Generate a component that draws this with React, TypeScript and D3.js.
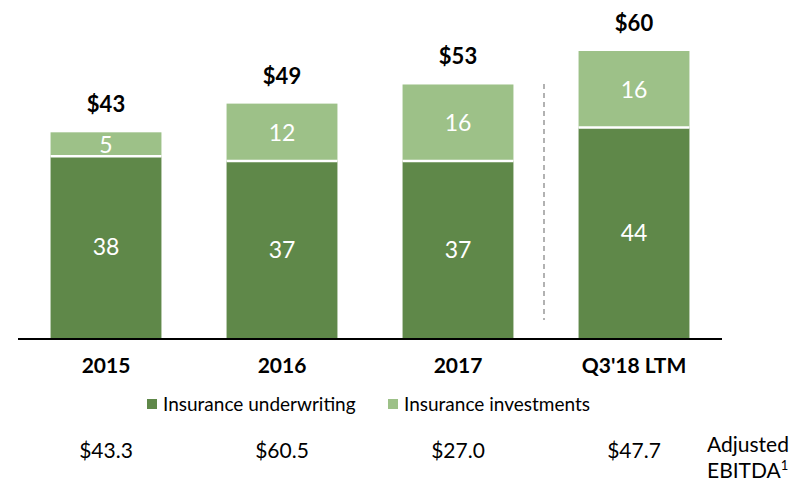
import React from 'react';
import * as d3 from 'd3';

const categories = ['2015', '2016', '2017', "Q3'18 LTM"];
const underwriting = [38, 37, 37, 44];
const investments = [5, 12, 16, 16];
const totals = ['$43', '$49', '$53', '$60'];
const ebitda = ['$43.3', '$60.5', '$27.0', '$47.7'];

const DARK = '#5f8849';
const LIGHT = '#9dc188';
const FONT = 'Lato, "Open Sans", sans-serif';

export default function App() {
  const width = 807;
  const height = 481;
  const baseY = 338;

  const x = d3.scaleBand<string>().domain(categories).range([18, 722]).paddingInner(0.37).paddingOuter(0.185);
  const y = d3.scaleLinear().domain([0, 60]).range([baseY, 51]);

  return (
    <svg width={width} height={height} style={{ position: 'absolute', left: 0, top: 0, fontFamily: FONT }}>
      {categories.map((c, i) => {
        const x0 = x(c) ?? 0;
        const bw = x.bandwidth();
        const cx = x0 + bw / 2;
        const u = underwriting[i];
        const v = investments[i];
        const yU = y(u);
        const yT = y(u + v);
        return (
          <g key={c}>
            <rect x={x0} y={yU} width={bw} height={baseY - yU} fill={DARK} />
            <rect x={x0} y={yT} width={bw} height={yU - yT} fill={LIGHT} />
            <line x1={x0} x2={x0 + bw} y1={yU} y2={yU} stroke="#fff" strokeWidth={2.5} />
            <text x={cx} y={(yU + baseY) / 2} dy="0.36em" textAnchor="middle" fill="#fff" fontSize={23}>{u}</text>
            <text x={cx} y={(yT + yU) / 2} dy="0.36em" textAnchor="middle" fill="#fff" fontSize={23}>{v}</text>
            <text x={cx} y={yT - 20} textAnchor="middle" fill="#000" fontSize={22} fontWeight="bold">{totals[i]}</text>
            <text x={cx} y={373} textAnchor="middle" fill="#000" fontSize={21} fontWeight="bold">{c}</text>
            <text x={cx} y={458} textAnchor="middle" fill="#000" fontSize={21}>{ebitda[i]}</text>
          </g>
        );
      })}
      <line x1={544} x2={544} y1={84} y2={320} stroke="#999" strokeWidth={1.5} strokeDasharray="5 4" />
      <line x1={18} x2={722} y1={baseY + 1} y2={baseY + 1} stroke="#000" strokeWidth={2} />

      <rect x={147} y={399} width={10} height={10} fill={DARK} />
      <text x={163} y={411} fontSize={19} fill="#000">Insurance underwriting</text>
      <rect x={388} y={399} width={10} height={10} fill={LIGHT} />
      <text x={404} y={411} fontSize={19} fill="#000">Insurance investments</text>

      <text x={707} y={452} fontSize={21} fill="#000">Adjusted</text>
      <text x={707} y={478} fontSize={21} fill="#000">EBITDA<tspan dy={-8} fontSize={13}>1</tspan></text>
    </svg>
  );
}
